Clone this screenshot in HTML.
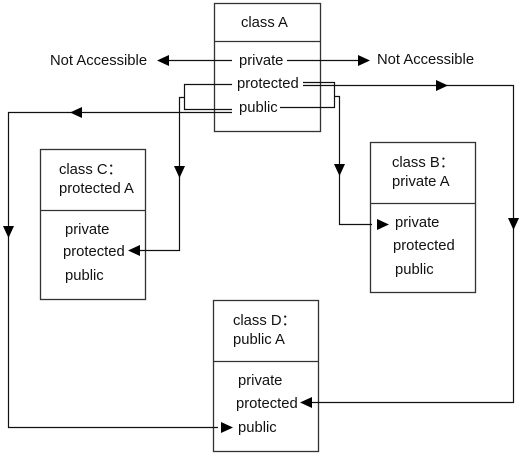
<!DOCTYPE html>
<html><head><style>
body{margin:0;background:#fff;}
svg{display:block;}
text{font-family:"Liberation Sans",sans-serif;font-size:14.8px;fill:#111;}
</style></head><body>
<svg width="526" height="459" viewBox="0 0 526 459">
<g fill="none" stroke="#333" stroke-width="1.3">
<rect x="214.5" y="3.5" width="106" height="128"/><line x1="214" y1="41.5" x2="321" y2="41.5"/>
<rect x="40.5" y="149.5" width="105" height="150"/><line x1="40" y1="210.5" x2="146" y2="210.5"/>
<rect x="370.5" y="142.5" width="105" height="150"/><line x1="370" y1="203.5" x2="476" y2="203.5"/>
<rect x="213.5" y="300.5" width="105" height="151"/><line x1="213" y1="361.5" x2="319" y2="361.5"/>
</g>
<g fill="none" stroke="#111" stroke-width="1.2">
<polyline points="232,60.5 160,60.5"/>
<polyline points="287,60.5 365,60.5"/>
<polyline points="303,82.5 334.5,82.5 334.5,107.5 280,107.5"/>
<polyline points="303,85.5 440,85.5"/>
<polyline points="440,85.5 513.5,85.5 513.5,402.5 310,402.5"/>
<polyline points="334,96.5 339.5,96.5 339.5,224.5 372,224.5"/>
<polyline points="232,84.5 184.5,84.5 184.5,109.5 232,109.5"/>
<polyline points="184,97.5 179.5,97.5 179.5,250.5 134,250.5"/>
<polyline points="232,112.5 8.5,112.5 8.5,427.5 218,427.5"/>
</g>
<g fill="#000">
<polygon points="157,60.5 169,55 169,66"/>
<polygon points="370,60.5 358,55 358,66"/>
<polygon points="448,85.5 436,80 436,91"/>
<polygon points="70,112.5 82,107 82,118"/>
<polygon points="179.5,178 174,166 185,166"/>
<polygon points="339.5,176 334,164 345,164"/>
<polygon points="8.5,238 3,226 14,226"/>
<polygon points="513.5,230 508,218 519,218"/>
<polygon points="128,250.5 140,245 140,256"/>
<polygon points="389,224.5 377,219 377,230"/>
<polygon points="233,427.5 221,422 221,433"/>
<polygon points="300,402.5 312,397 312,408"/>
</g>
<text x="50" y="65">Not Accessible</text>
<text x="377" y="64">Not Accessible</text>
<text x="241" y="27">class A</text>
<text x="239" y="65">private</text>
<text x="237" y="88">protected</text>
<text x="239" y="112">public</text>
<text x="59" y="174">class C：</text>
<text x="59" y="193">protected A</text>
<text x="65" y="234">private</text>
<text x="63" y="256">protected</text>
<text x="65" y="280">public</text>
<text x="392" y="167">class B：</text>
<text x="392" y="186">private A</text>
<text x="395" y="227">private</text>
<text x="393" y="250">protected</text>
<text x="395" y="274">public</text>
<text x="233" y="325">class D：</text>
<text x="233" y="344">public A</text>
<text x="238" y="385">private</text>
<text x="236" y="408">protected</text>
<text x="238" y="432">public</text>
</svg>
</body></html>
